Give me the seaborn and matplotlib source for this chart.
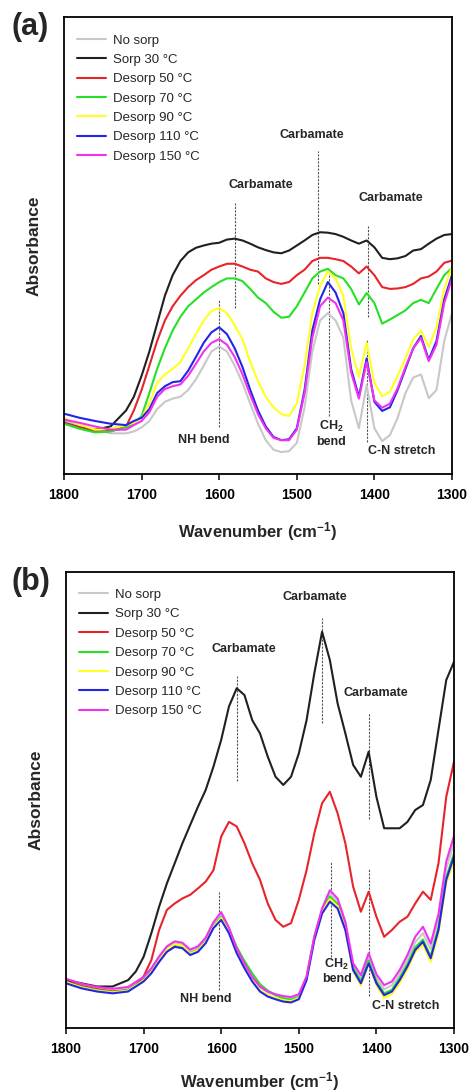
import pandas as pd
import matplotlib
matplotlib.use('Agg')
import matplotlib.pyplot as plt
import seaborn as sns

# wavenumber grid (cm-1)
wavenumber = [1800, 1780, 1760, 1740, 1720, 1710, 1700, 1690, 1680, 1670,
              1660, 1650, 1640, 1630, 1620, 1610, 1600, 1590, 1580, 1570,
              1560, 1550, 1540, 1530, 1520, 1510, 1500, 1490, 1480, 1470,
              1460, 1450, 1440, 1430, 1420, 1410, 1400, 1390, 1380, 1370,
              1360, 1350, 1340, 1330, 1320, 1310, 1300]

labels = ['No sorp', 'Sorp 30 °C', 'Desorp 50 °C', 'Desorp 70 °C',
          'Desorp 90 °C', 'Desorp 110 °C', 'Desorp 150 °C']
colors = ['#c8c8c8', '#202020', '#e8242a', '#26e026', '#ffff20', '#2424e6', '#f032f0']

# panel (a)
a_nosorp = [0.116, 0.107, 0.097, 0.089, 0.089, 0.093, 0.102, 0.116, 0.142, 0.158,
            0.165, 0.169, 0.184, 0.207, 0.237, 0.268, 0.279, 0.268, 0.237, 0.199,
            0.154, 0.110, 0.074, 0.053, 0.048, 0.050, 0.068, 0.146, 0.268, 0.336,
            0.352, 0.336, 0.298, 0.161, 0.100, 0.195, 0.100, 0.072, 0.085, 0.123,
            0.177, 0.211, 0.218, 0.166, 0.184, 0.291, 0.352]
a_sorp30 = [0.112, 0.102, 0.097, 0.104, 0.139, 0.169, 0.215, 0.268, 0.329, 0.390,
            0.435, 0.466, 0.485, 0.495, 0.500, 0.504, 0.506, 0.513, 0.515, 0.511,
            0.504, 0.496, 0.490, 0.485, 0.483, 0.489, 0.500, 0.511, 0.523, 0.529,
            0.528, 0.525, 0.519, 0.511, 0.504, 0.511, 0.496, 0.473, 0.470, 0.472,
            0.477, 0.489, 0.492, 0.504, 0.515, 0.523, 0.525]
a_des50 = [0.112, 0.102, 0.093, 0.094, 0.104, 0.139, 0.184, 0.237, 0.291, 0.336,
           0.367, 0.390, 0.409, 0.424, 0.435, 0.447, 0.454, 0.460, 0.460, 0.454,
           0.447, 0.443, 0.428, 0.420, 0.416, 0.420, 0.435, 0.447, 0.466, 0.473,
           0.473, 0.470, 0.466, 0.454, 0.439, 0.454, 0.435, 0.409, 0.405, 0.406,
           0.409, 0.416, 0.428, 0.432, 0.443, 0.462, 0.467]
a_des70 = [0.110, 0.099, 0.091, 0.093, 0.102, 0.110, 0.127, 0.177, 0.230, 0.275,
           0.314, 0.344, 0.367, 0.382, 0.397, 0.409, 0.420, 0.428, 0.428, 0.422,
           0.405, 0.386, 0.374, 0.355, 0.342, 0.344, 0.367, 0.397, 0.428, 0.443,
           0.449, 0.435, 0.428, 0.405, 0.371, 0.396, 0.374, 0.329, 0.338, 0.348,
           0.358, 0.374, 0.381, 0.374, 0.405, 0.435, 0.451]
a_des90 = [0.123, 0.108, 0.097, 0.099, 0.107, 0.112, 0.123, 0.154, 0.199, 0.218,
           0.230, 0.245, 0.275, 0.306, 0.336, 0.357, 0.363, 0.352, 0.325, 0.295,
           0.245, 0.203, 0.169, 0.146, 0.131, 0.127, 0.154, 0.237, 0.352, 0.412,
           0.443, 0.428, 0.390, 0.275, 0.212, 0.287, 0.199, 0.170, 0.180, 0.215,
           0.253, 0.295, 0.314, 0.278, 0.321, 0.405, 0.454]
a_des110 = [0.132, 0.123, 0.116, 0.110, 0.107, 0.116, 0.123, 0.142, 0.177, 0.192,
            0.201, 0.203, 0.226, 0.256, 0.287, 0.310, 0.321, 0.306, 0.275, 0.234,
            0.184, 0.139, 0.104, 0.081, 0.074, 0.076, 0.100, 0.184, 0.314, 0.382,
            0.420, 0.397, 0.352, 0.230, 0.169, 0.253, 0.158, 0.138, 0.146, 0.184,
            0.230, 0.275, 0.302, 0.250, 0.291, 0.382, 0.435]
a_des150 = [0.119, 0.112, 0.104, 0.097, 0.097, 0.107, 0.116, 0.135, 0.169, 0.186,
            0.192, 0.196, 0.215, 0.241, 0.268, 0.287, 0.295, 0.283, 0.256, 0.218,
            0.173, 0.131, 0.100, 0.079, 0.074, 0.074, 0.097, 0.177, 0.298, 0.367,
            0.386, 0.374, 0.336, 0.222, 0.165, 0.245, 0.161, 0.145, 0.154, 0.188,
            0.234, 0.275, 0.298, 0.247, 0.283, 0.374, 0.428]

# panel (b)
b_nosorp = [0.104, 0.093, 0.086, 0.082, 0.086, 0.097, 0.108, 0.127, 0.153, 0.175,
            0.186, 0.183, 0.168, 0.175, 0.194, 0.228, 0.249, 0.218, 0.173, 0.140,
            0.111, 0.089, 0.078, 0.072, 0.067, 0.065, 0.072, 0.111, 0.198, 0.258,
            0.294, 0.278, 0.228, 0.137, 0.109, 0.156, 0.110, 0.085, 0.094, 0.118,
            0.150, 0.188, 0.208, 0.173, 0.238, 0.350, 0.405]
b_sorp30 = [0.105, 0.098, 0.091, 0.091, 0.105, 0.124, 0.156, 0.208, 0.266, 0.317,
            0.361, 0.405, 0.445, 0.485, 0.522, 0.573, 0.632, 0.705, 0.745, 0.730,
            0.675, 0.646, 0.595, 0.551, 0.533, 0.551, 0.602, 0.675, 0.778, 0.869,
            0.807, 0.712, 0.646, 0.577, 0.551, 0.606, 0.507, 0.438, 0.438, 0.438,
            0.452, 0.478, 0.489, 0.544, 0.654, 0.763, 0.803]
b_des50 = [0.102, 0.092, 0.085, 0.080, 0.083, 0.094, 0.113, 0.149, 0.215, 0.259,
           0.273, 0.284, 0.292, 0.306, 0.321, 0.346, 0.420, 0.452, 0.442, 0.405,
           0.361, 0.325, 0.273, 0.237, 0.222, 0.230, 0.281, 0.346, 0.427, 0.493,
           0.518, 0.471, 0.405, 0.310, 0.255, 0.299, 0.244, 0.200, 0.215, 0.233,
           0.244, 0.273, 0.299, 0.281, 0.361, 0.507, 0.584]
b_des70 = [0.101, 0.090, 0.083, 0.079, 0.083, 0.094, 0.105, 0.123, 0.149, 0.171,
           0.182, 0.179, 0.164, 0.171, 0.190, 0.223, 0.243, 0.217, 0.178, 0.147,
           0.120, 0.096, 0.082, 0.072, 0.065, 0.062, 0.068, 0.112, 0.200, 0.259,
           0.288, 0.272, 0.222, 0.132, 0.102, 0.148, 0.102, 0.076, 0.084, 0.110,
           0.140, 0.177, 0.194, 0.157, 0.220, 0.330, 0.383]
b_des90 = [0.100, 0.089, 0.082, 0.078, 0.082, 0.093, 0.104, 0.122, 0.148, 0.172,
           0.184, 0.180, 0.163, 0.170, 0.189, 0.222, 0.241, 0.211, 0.167, 0.134,
           0.105, 0.083, 0.072, 0.066, 0.061, 0.059, 0.066, 0.108, 0.196, 0.255,
           0.283, 0.267, 0.218, 0.125, 0.093, 0.142, 0.094, 0.066, 0.074, 0.099,
           0.129, 0.166, 0.183, 0.145, 0.208, 0.318, 0.365]
b_des110 = [0.098, 0.087, 0.080, 0.076, 0.080, 0.091, 0.102, 0.120, 0.145, 0.167,
            0.178, 0.175, 0.160, 0.167, 0.186, 0.219, 0.237, 0.208, 0.164, 0.131,
            0.102, 0.080, 0.069, 0.063, 0.058, 0.056, 0.063, 0.105, 0.193, 0.251,
            0.277, 0.262, 0.215, 0.127, 0.098, 0.142, 0.098, 0.072, 0.080, 0.105,
            0.135, 0.171, 0.189, 0.153, 0.215, 0.325, 0.376]
b_des150 = [0.108, 0.097, 0.090, 0.086, 0.090, 0.101, 0.112, 0.131, 0.157, 0.179,
            0.190, 0.187, 0.172, 0.179, 0.198, 0.232, 0.254, 0.220, 0.174, 0.141,
            0.112, 0.091, 0.080, 0.074, 0.070, 0.068, 0.074, 0.113, 0.201, 0.262,
            0.302, 0.284, 0.233, 0.142, 0.116, 0.164, 0.118, 0.094, 0.102, 0.127,
            0.160, 0.200, 0.222, 0.185, 0.250, 0.365, 0.421]

sns.set_theme(style='ticks')
plt.rcParams['font.family'] = ['Liberation Sans', 'DejaVu Sans']
plt.rcParams['mathtext.default'] = 'regular'


def long_table(series):
    rows = []
    for lab, vals in zip(labels, series):
        rows.append(pd.DataFrame({'wn': wavenumber, 'A': vals, 'sample': lab}))
    return pd.concat(rows, ignore_index=True)


def draw_panel(ax, series, legend_top, xlab_y):
    df = long_table(series)
    sns.lineplot(data=df, x='wn', y='A', hue='sample', hue_order=labels,
                 palette=colors, estimator=None, sort=False, lw=1.5, ax=ax)
    handles, labs = ax.get_legend_handles_labels()
    ax.legend(handles, labs, loc='upper left', bbox_to_anchor=(0.034, legend_top),
              frameon=False, fontsize=9.5, handlelength=2.2, handletextpad=0.5,
              labelspacing=0.54, borderaxespad=0, borderpad=0)
    ax.set_xlim(1800, 1300)
    ax.set_ylim(0, 1)
    ax.set_xticks([1800, 1700, 1600, 1500, 1400, 1300])
    ax.set_yticks([])
    ax.tick_params(axis='x', direction='out', length=4.3, width=1.1, pad=6,
                   labelsize=10, colors='black')
    for t in ax.get_xticklabels():
        t.set_fontweight('bold')
    for sp in ax.spines.values():
        sp.set_visible(True)
        sp.set_linewidth(1.3)
        sp.set_color('black')
    ax.set_xlabel('Wavenumber (cm$^{-1}$)', fontsize=12, fontweight='bold')
    ax.set_ylabel('Absorbance', fontsize=12.5, fontweight='bold')
    ax.xaxis.set_label_coords(0.5, xlab_y)
    ax.yaxis.set_label_coords(-0.058, 0.5)


def guide(ax, x, y0, y1):
    ax.plot([x, x], [y0, y1], color='#555555', lw=0.8, ls=(0, (2, 1.2)), zorder=1)


def note(ax, x, y, s):
    ax.text(x, y, s, ha='center', va='center', fontsize=9, fontweight='bold')


fig = plt.figure(figsize=(4.69, 10.91), dpi=100)
ax_a = fig.add_axes([64 / 469, 1 - 474 / 1091, 388 / 469, 457 / 1091])
ax_b = fig.add_axes([66 / 469, 1 - 1028 / 1091, 388 / 469, 456 / 1091])

draw_panel(ax_a, [a_nosorp, a_sorp30, a_des50, a_des70, a_des90, a_des110, a_des150],
           0.962, -0.10)
guide(ax_a, 1580, 0.363, 0.593)
guide(ax_a, 1473, 0.416, 0.707)
guide(ax_a, 1408, 0.344, 0.542)
guide(ax_a, 1600, 0.102, 0.381)
guide(ax_a, 1459, 0.127, 0.443)
guide(ax_a, 1409, 0.070, 0.295)
note(ax_a, 1547, 0.633, 'Carbamate')
note(ax_a, 1481, 0.742, 'Carbamate')
note(ax_a, 1379, 0.603, 'Carbamate')
note(ax_a, 1620, 0.074, 'NH bend')
note(ax_a, 1456, 0.088, 'CH$_2$\nbend')
note(ax_a, 1365, 0.051, 'C-N stretch')

draw_panel(ax_b, [b_nosorp, b_sorp30, b_des50, b_des70, b_des90, b_des110, b_des150],
           0.963, -0.092)
guide(ax_b, 1580, 0.541, 0.772)
guide(ax_b, 1470, 0.669, 0.899)
guide(ax_b, 1410, 0.459, 0.690)
guide(ax_b, 1603, 0.084, 0.298)
guide(ax_b, 1458, 0.155, 0.366)
guide(ax_b, 1409, 0.071, 0.350)
note(ax_b, 1571, 0.831, 'Carbamate')
note(ax_b, 1479, 0.945, 'Carbamate')
note(ax_b, 1401, 0.735, 'Carbamate')
note(ax_b, 1620, 0.063, 'NH bend')
note(ax_b, 1451, 0.125, 'CH$_2$\nbend')
note(ax_b, 1362, 0.048, 'C-N stretch')

fig.text(0.025, 1 - 27 / 1091, '(a)', fontsize=22, fontweight='bold', ha='left', va='center')
fig.text(0.025, 1 - 582 / 1091, '(b)', fontsize=22, fontweight='bold', ha='left', va='center')

fig.savefig('out.png', dpi=100)
